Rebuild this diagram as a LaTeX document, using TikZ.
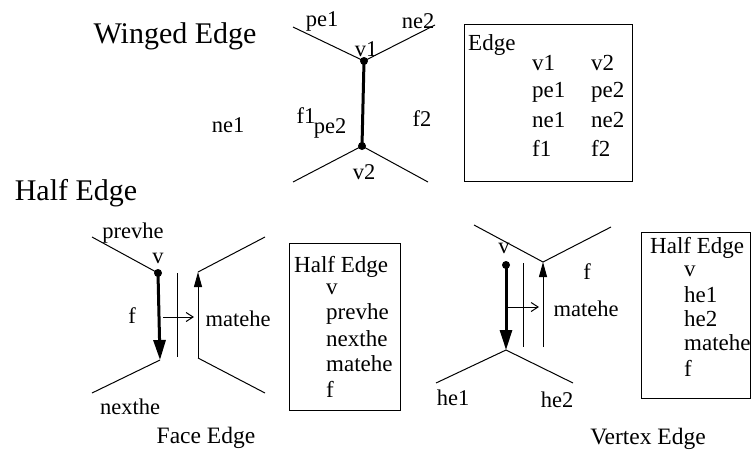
\documentclass[tikz,border=0pt]{standalone}
\usepackage{fontspec}
\setmainfont{Liberation Serif}
\usetikzlibrary{arrows.meta}
\begin{document}
\begin{tikzpicture}[x=1pt,y=-1pt,
  lbl/.style={inner sep=0pt,font=\fontsize{22.5}{26}\selectfont},
  bt/.style={inner sep=0pt,anchor=west,font=\fontsize{23}{26}\selectfont},
  ttl/.style={inner sep=0pt,font=\fontsize{30}{36}\selectfont},
  captxt/.style={inner sep=0pt,font=\fontsize{23.5}{26}\selectfont},
  ln/.style={line width=1pt},
  thk/.style={line width=3pt},
  dot/.style={circle,fill,inner sep=0pt,minimum size=8pt},
  boxn/.style={draw,line width=1pt,inner sep=0pt},
  bigarr/.style={thk,-{Triangle[length=20pt,width=12pt]}},
  uparr/.style={ln,-{Triangle[length=15pt,width=8pt]}},
  smarr/.style={ln,-{Straight Barb[length=7pt,width=9pt]}}
]
\useasboundingbox (0,0) rectangle (751,459);

% ---------- Winged Edge ----------
\node[ttl] (tw) at (175,36) {Winged Edge};
\coordinate (wul) at (293,27);
\coordinate (wur) at (435,25);
\coordinate (wll) at (293,182);
\coordinate (wlr) at (428,182);
\node[dot] (v1) at (364,61) {};
\node[dot] (v2) at (362,146) {};
\draw[ln] (wul) -- (v1.center) -- (wur);
\draw[ln] (wll) -- (v2.center) -- (wlr);
\draw[thk] (v1.center) -- (v2.center);
\node[lbl] (lpe1) at (322,21) {pe1};
\node[lbl] (lne2) at (418,21) {ne2};
\node[lbl] (lv1) at (366,49) {v1};
\node[lbl] (lf1) at (306,116) {f1};
\node[lbl] (lpe2) at (330,128) {pe2};
\node[lbl] (lf2) at (422,119) {f2};
\node[lbl] (lv2) at (364,172) {v2};
\node[lbl] (lne1) at (228,125) {ne1};

\node[boxn,minimum width=168pt,minimum height=157pt] (ebox) at (548,102.5) {};
\node[bt] (eh) at (468,45) {Edge};
\node[bt] (e11) at (532,63) {v1};
\node[bt] (e12) at (591,63) {v2};
\node[bt] (e21) at (532,92) {pe1};
\node[bt] (e22) at (591,92) {pe2};
\node[bt] (e31) at (532,120) {ne1};
\node[bt] (e32) at (591,120) {ne2};
\node[bt] (e41) at (532,148) {f1};
\node[bt] (e42) at (591,148) {f2};

% ---------- Half Edge ----------
\node[ttl] (th) at (76,193) {Half Edge};

% Face edge
\coordinate (ful) at (92,237);
\coordinate (fll) at (92,393);
\coordinate (fbot) at (160,360);
\coordinate (fur) at (265,237);
\coordinate (flr) at (265,393);
\coordinate (frt) at (198,272);
\coordinate (frb) at (198,358);
\coordinate (fmt) at (177,273);
\coordinate (fmb) at (177,357);
\coordinate (fas) at (163,317);
\coordinate (fae) at (194,317);
\node[dot] (fv) at (158,273) {};
\draw[ln] (ful) -- (fv.center);
\draw[bigarr] (fv.center) -- (fbot);
\draw[ln] (fbot) -- (fll);
\draw[ln] (fmt) -- (fmb);
\draw[smarr] (fas) -- (fae);
\draw[uparr] (frb) -- (frt);
\draw[ln] (frt) -- (fur);
\draw[ln] (frb) -- (flr);
\node[lbl] (lprev) at (133,233) {prevhe};
\node[lbl] (lfv) at (158,258) {v};
\node[lbl] (lff) at (132,316) {f};
\node[lbl] (lfm) at (238,319) {matehe};
\node[lbl] (lnext) at (130,407) {nexthe};
\node[captxt] (lface) at (206,438) {Face Edge};

\node[boxn,minimum width=111pt,minimum height=167pt] (hbox) at (344.5,326.5) {};
\node[bt] (h0) at (294,267) {Half Edge};
\node[bt] (h1) at (326,289) {v};
\node[bt] (h2) at (326,314) {prevhe};
\node[bt] (h3) at (326,339) {nexthe};
\node[bt] (h4) at (326,364) {matehe};
\node[bt] (h5) at (326,389) {f};

% Vertex edge
\coordinate (vul) at (474,225);
\coordinate (vur) at (611,227);
\coordinate (vjt) at (543,262);
\coordinate (vbot) at (506,350);
\coordinate (vll) at (436,383);
\coordinate (vlr) at (573,383);
\coordinate (vrb) at (543,347);
\coordinate (vmt) at (523,263);
\coordinate (vmb) at (523,347);
\coordinate (vas) at (508,307);
\coordinate (vae) at (539,307);
\node[dot] (vv) at (506,265) {};
\draw[ln] (vul) -- (vjt) -- (vur);
\draw[bigarr] (vv.center) -- (vbot);
\draw[ln] (vll) -- (vbot) -- (vlr);
\draw[ln] (vmt) -- (vmb);
\draw[smarr] (vas) -- (vae);
\draw[uparr] (vrb) -- (vjt);
\node[lbl] (lvv) at (504,248) {v};
\node[lbl] (lvf) at (587,272) {f};
\node[lbl] (lvm) at (586,309) {matehe};
\node[lbl] (lhe1) at (453,398) {he1};
\node[lbl] (lhe2) at (557,400) {he2};
\node[captxt] (lvert) at (648,439) {Vertex Edge};

\node[boxn,minimum width=109pt,minimum height=166pt] (vbox) at (695.5,315) {};
\node[bt] (g0) at (650,248) {Half Edge};
\node[bt] (g1) at (684,271) {v};
\node[bt] (g2) at (684,295) {he1};
\node[bt] (g3) at (684,319) {he2};
\node[bt] (g4) at (684,343) {matehe};
\node[bt] (g5) at (684,368) {f};
\end{tikzpicture}
\end{document}
